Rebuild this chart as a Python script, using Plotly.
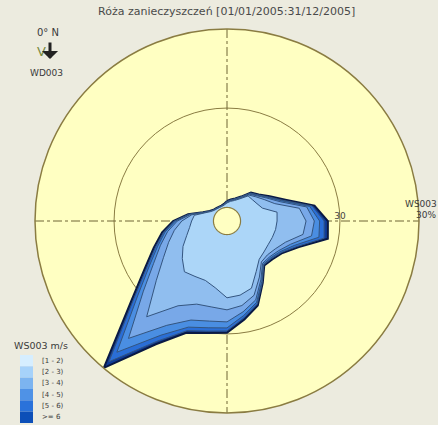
import plotly.graph_objects as go
import numpy as np

W, H = 438, 425

# Wind directions (degrees, clockwise from North)
directions = list(range(0, 360, 10))

# Wind-speed classes (m/s) of WS003
classes = ["[1 - 2)", "[2 - 3)", "[3 - 4)", "[4 - 5)", "[5 - 6)", ">= 6"]

# Cumulative frequency (%) up to and including each class, per direction
cum_1_2 = [4.8, 5.3, 5.8, 6.8, 8.7, 8.8, 9.2, 10.0, 13.5, 13.3, 13.1, 12.8, 12.6, 12.8, 13.3, 15.5, 19.0, 20.0,
           20.4, 18.0, 16.8, 17.0, 17.6, 15.5, 13.5, 11.4, 10.1, 9.4, 8.8, 6.3, 5.0, 4.4, 4.2, 4.1, 4.1, 4.3]
cum_2_3 = [4.9, 5.4, 6.0, 7.0, 9.0, 10.0, 11.4, 13.5, 19.5, 21.0, 20.5, 16.5, 14.8, 14.0, 14.2, 17.2, 21.0, 22.8,
           23.6, 23.2, 23.5, 26.0, 33.2, 24.5, 19.5, 16.5, 14.2, 12.0, 9.5, 6.4, 5.05, 4.45, 4.25, 4.15, 4.15, 4.35]
cum_3_4 = [5.0, 5.5, 6.1, 7.2, 9.3, 10.4, 12.2, 15.0, 21.5, 23.2, 22.8, 18.0, 15.8, 14.8, 14.7, 18.0, 22.3, 24.5,
           26.8, 27.0, 28.0, 32.0, 40.7, 29.0, 22.5, 18.8, 16.0, 13.2, 9.9, 6.5, 5.1, 4.5, 4.3, 4.2, 4.2, 4.4]
cum_4_5 = [5.1, 5.6, 6.2, 7.3, 9.5, 10.6, 12.5, 15.6, 22.3, 24.6, 24.8, 19.0, 16.3, 15.2, 15.0, 18.5, 23.0, 25.5,
           28.4, 28.8, 30.0, 35.0, 45.5, 31.0, 23.8, 19.6, 16.7, 13.7, 10.1, 6.6, 5.15, 4.55, 4.35, 4.25, 4.25, 4.45]
cum_5_6 = [5.2, 5.7, 6.3, 7.4, 9.7, 10.8, 12.8, 16.0, 23.0, 25.8, 26.2, 19.8, 16.7, 15.5, 15.2, 18.8, 23.5, 26.1,
           29.2, 29.7, 31.0, 36.8, 48.8, 32.4, 24.6, 20.2, 17.1, 14.0, 10.3, 6.7, 5.2, 4.6, 4.4, 4.3, 4.3, 4.5]
cum_ge_6 = [5.3, 5.8, 6.4, 7.5, 9.9, 11.0, 13.1, 16.5, 23.6, 26.8, 27.2, 20.3, 17.0, 15.8, 15.4, 19.0, 23.9, 26.6,
            29.7, 30.2, 31.6, 37.8, 50.9, 33.3, 25.2, 20.7, 17.5, 14.3, 10.5, 6.8, 5.3, 4.65, 4.45, 4.35, 4.35, 4.6]

calm_pct = 3.6
r_max = 51
radial_ticks = [30]

layers = [cum_1_2, cum_2_3, cum_3_4, cum_4_5, cum_5_6, cum_ge_6]
fill_colors = ["#acd6f8", "#90beef", "#78a8e8", "#4a8ee2", "#2a6ed6", "#0f3c98"]
bar_colors = ["#d6eeff", "#a6d2fa", "#7cb4f0", "#4f92e6", "#2a72da", "#0d4fb8"]

olive = "#8a7c42"
paper_bg = "#ecebdf"
polar_bg = "#ffffc2"
FONT = "DejaVu Sans, Verdana, sans-serif"

fig = go.Figure()

# dash-dot crosshair
for a, b in [(0, 180), (270, 90)]:
    fig.add_trace(go.Scatterpolar(r=[r_max, 0, r_max], theta=[a, 0, b], mode="lines",
                                  line=dict(color="#6e6434", width=1, dash="dashdot"),
                                  hoverinfo="skip", showlegend=False))

# stacked class polygons (outermost first)
for i in range(len(layers) - 1, -1, -1):
    r = layers[i] + [layers[i][0]]
    th = directions + [directions[0]]
    outer = i == len(layers) - 1
    fig.add_trace(go.Scatterpolar(r=r, theta=th, mode="lines", fill="toself",
                                  fillcolor=fill_colors[i],
                                  line=dict(color="#0a1a44" if outer else "#34557f",
                                            width=2 if outer else 1),
                                  name=classes[i], showlegend=False))

# calm circle
th_c = list(np.linspace(0, 360, 73))
fig.add_trace(go.Scatterpolar(r=[calm_pct] * len(th_c), theta=th_c, mode="lines", fill="toself",
                              fillcolor=polar_bg, line=dict(color=olive, width=1.2),
                              hoverinfo="skip", showlegend=False))

cx, cy, R = 227, 221, 192
fig.update_layout(
    width=W, height=H, margin=dict(l=0, r=0, t=0, b=0),
    paper_bgcolor=paper_bg, plot_bgcolor=paper_bg,
    font=dict(family=FONT, color="#3a3a3a"),
    polar=dict(
        domain=dict(x=[(cx - R) / W, (cx + R) / W], y=[1 - (cy + R) / H, 1 - (cy - R) / H]),
        bgcolor=polar_bg,
        angularaxis=dict(rotation=90, direction="clockwise", showgrid=False, showticklabels=False,
                         ticks="", showline=True, linecolor=olive, linewidth=1.5),
        radialaxis=dict(range=[0, r_max], tickvals=radial_ticks, ticktext=[str(t) for t in radial_ticks],
                        showline=False, gridcolor=olive, gridwidth=1, angle=0, tickangle=0,
                        side="counterclockwise", ticks="",
                        tickfont=dict(size=9, color="#444")),
    ),
)

def ann(text, px, py, size=10, xanchor="left", yanchor="middle", color="#3a3a3a", **kw):
    fig.add_annotation(text=text, x=px / W, y=1 - py / H, xref="paper", yref="paper",
                       showarrow=False, xanchor=xanchor, yanchor=yanchor,
                       font=dict(size=size, color=color, family=FONT), **kw)

ann("Róża zanieczyszczeń [01/01/2005:31/12/2005]", 226, 12, size=11, xanchor="center", color="#4a4a4a")
ann("0° N", 48, 33, size=10, xanchor="center")
ann("V", 41, 51, size=13, xanchor="center", color="#7a8a40")
fig.add_annotation(x=50 / W, y=1 - 59 / H, ax=0, ay=-18, xref="paper", yref="paper",
                   axref="pixel", ayref="pixel", showarrow=True, arrowhead=1, arrowsize=0.9,
                   arrowwidth=3, arrowcolor="#222", text="")
ann("WD003", 46, 73, size=9, xanchor="center")
ann("WS003", 403, 204, size=9)
ann("30%", 414, 215, size=9)
ann("WS003 m/s", 12, 345, size=9.5)

# legend colour bar
top, bottom = 355, 423
step = (bottom - top) / len(classes)
for i, lab in enumerate(classes):
    y0 = top + i * step
    fig.add_shape(type="rect", xref="paper", yref="paper",
                  x0=20 / W, x1=33 / W, y0=1 - (y0 + step) / H, y1=1 - y0 / H,
                  fillcolor=bar_colors[i], line=dict(width=0))
    ann(lab, 40, y0 + step / 2, size=7)

fig.write_html("out.html")
